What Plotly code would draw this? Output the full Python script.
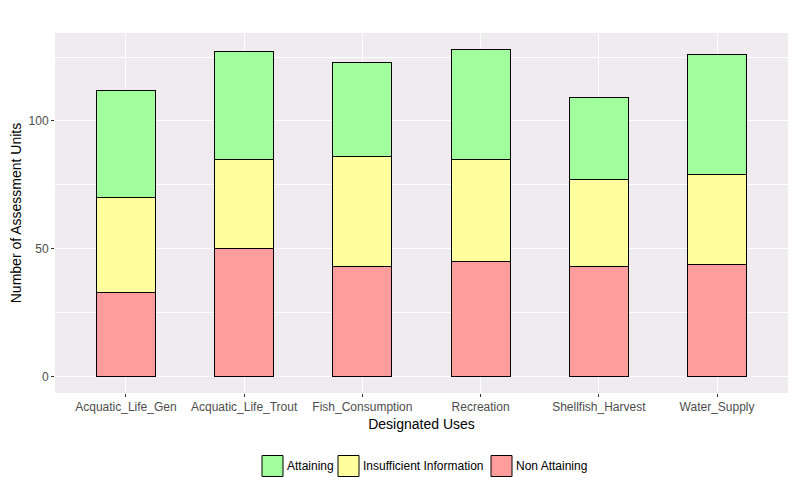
import plotly.graph_objects as go

categories = ["Acquatic_Life_Gen", "Acquatic_Life_Trout", "Fish_Consumption",
              "Recreation", "Shellfish_Harvest", "Water_Supply"]
non_attaining = [33, 50, 43, 45, 43, 44]
insufficient = [37, 35, 43, 40, 34, 35]
attaining = [42, 42, 37, 43, 32, 47]

series = [
    ("Non Attaining", non_attaining, "#FF9C9C"),
    ("Insufficient Information", insufficient, "#FFFF9E"),
    ("Attaining", attaining, "#A0FF9C"),
]

OFF = 8  # default page body margin
W, H = 796 - OFF, 492 - OFF
L, T = 55 - OFF, 33 - OFF
R = W - (788 - OFF)
B = H - (393 - OFF)
pw, ph = W - L - R, H - T - B

def px_x(p):
    return (p - OFF - L) / pw

def px_y(p):
    return (H - B - (p - OFF)) / ph

fig = go.Figure()
for name, vals, col in series:
    fig.add_trace(go.Bar(
        x=categories, y=vals, name=name, width=0.5,
        marker=dict(color=col, line=dict(color="black", width=1.1)),
        showlegend=False,
    ))

font = "Liberation Sans, Arial, sans-serif"

legend_items = [("Attaining", "#A0FF9C", 262), ("Insufficient Information", "#FFFF9E", 338),
                ("Non Attaining", "#FF9C9C", 491)]
shapes = []
annotations = []
for name, col, x0 in legend_items:
    shapes.append(dict(type="rect", xref="paper", yref="paper",
                       x0=px_x(x0), x1=px_x(x0 + 21), y0=px_y(476.5), y1=px_y(455.5),
                       fillcolor=col, line=dict(color="black", width=1)))
    annotations.append(dict(xref="paper", yref="paper", x=px_x(x0 + 22.5), y=px_y(466),
                            text=name, showarrow=False, xanchor="left", yanchor="middle",
                            font=dict(size=12, color="black", family=font)))

fig.update_layout(
    barmode="stack",
    width=W, height=H,
    margin=dict(l=L, r=R, t=T, b=B),
    paper_bgcolor="white",
    plot_bgcolor="#EFEBEF",
    font=dict(family=font, size=12, color="black"),
    showlegend=False,
    shapes=shapes,
    annotations=annotations,
)
fig.update_xaxes(
    range=[-0.6, 5.6], automargin=False,
    showgrid=True, gridcolor="white", gridwidth=1.2,
    ticks="outside", ticklen=3, tickcolor="#333333", tickwidth=1,
    tickfont=dict(size=12, color="#4D4D4D", family=font),
    title=dict(text="Designated Uses", font=dict(size=14, color="black"), standoff=5),
    zeroline=False, showline=False,
)
fig.update_yaxes(
    range=[-6.4, 134.4], automargin=False,
    tick0=0, dtick=50,
    showgrid=True, gridcolor="white", gridwidth=1.2,
    minor=dict(tick0=25, dtick=50, showgrid=True, gridcolor="white", gridwidth=0.6),
    ticks="outside", ticklen=3, tickcolor="#333333", tickwidth=1,
    tickfont=dict(size=12, color="#4D4D4D", family=font),
    title=dict(text="Number of Assessment Units", font=dict(size=14, color="black"), standoff=7),
    zeroline=False, showline=False,
)
fig.write_html("out.html")
